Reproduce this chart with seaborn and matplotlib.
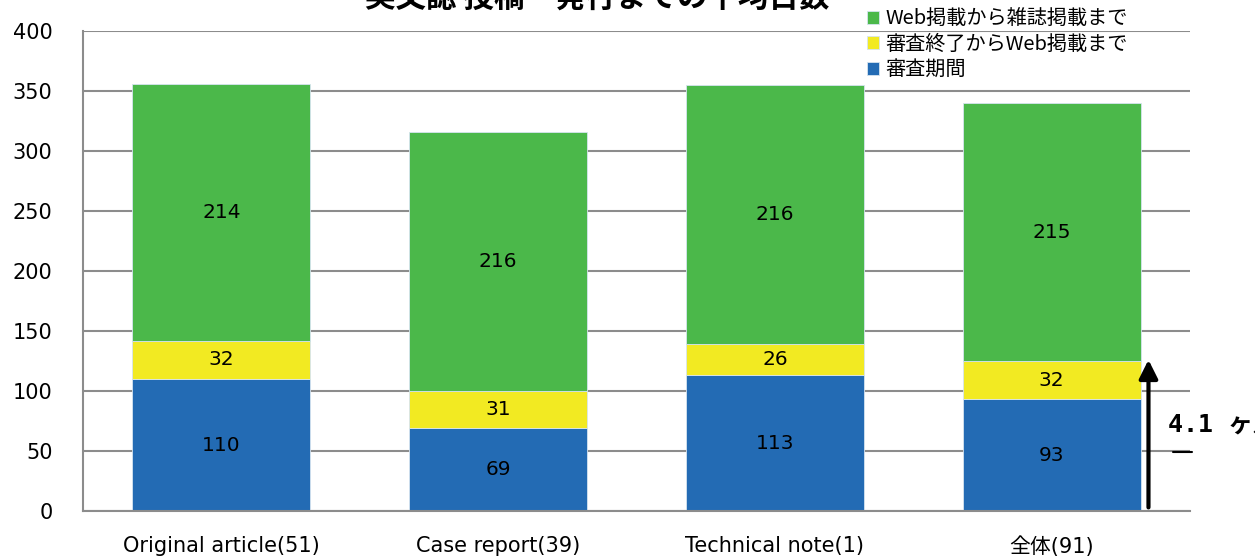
import matplotlib
matplotlib.use("Agg")
import matplotlib.pyplot as plt
import seaborn as sns
import numpy as np
import pandas as pd
from matplotlib.lines import Line2D

# データ
categories = ['Original article(51)', 'Case report(39)', 'Technical note(1)', '全体(91)']
review = [110, 69, 113, 93]          # 審査期間
to_web = [32, 31, 26, 32]            # 審査終了からWeb掲載まで
to_journal = [214, 216, 216, 215]    # Web掲載から雑誌掲載まで
series_names = ['審査期間', '審査終了からWeb掲載まで', 'Web掲載から雑誌掲載まで']
yticks = list(range(0, 401, 50))

title = '英文誌 投稿〜発行までの平均日数'
note = '4.1 ヶ月'

# スタイル
sns.set_theme(style='white')
plt.rcParams['font.family'] = ['DejaVu Sans', 'Noto Sans CJK JP']
plt.rcParams['axes.unicode_minus'] = False

colors = ['#236bb4', '#f2ea22', '#4bb84a']
grid_c = '#8c8c8c'

df = pd.DataFrame({'cat': categories, 'review': review,
                   'to_web': to_web, 'to_journal': to_journal})

fig = plt.figure(figsize=(12.55, 5.58), dpi=100)
ax = fig.add_axes([0.0661, 0.0842, 0.8821, 0.8602])

bottom = np.zeros(len(df))
for col, name, c in zip(['review', 'to_web', 'to_journal'], series_names, colors):
    sns.barplot(data=df, x='cat', y=col, color=c, width=0.643, errorbar=None,
                bottom=bottom.copy(), label=name, ax=ax,
                edgecolor='#d6e4f0', linewidth=0.6, saturation=1, zorder=2)
    bottom += df[col].to_numpy()

for cont in ax.containers:
    ax.bar_label(cont, label_type='center', fontsize=14.5, color='black')

ax.set_ylim(0, 400)
ax.set_xlim(-0.5, 3.5)
ax.set_yticks(yticks)
ax.set_xlabel('')
ax.set_ylabel('')
ax.yaxis.grid(True, color=grid_c, linewidth=1.5, zorder=0)
ax.set_axisbelow(True)
for s in ['top', 'right']:
    ax.spines[s].set_visible(False)
for s in ['left', 'bottom']:
    ax.spines[s].set_color(grid_c)
    ax.spines[s].set_linewidth(1.5)
ax.tick_params(axis='y', length=0, pad=22, labelsize=15, colors='black')
ax.tick_params(axis='x', length=0, pad=18, labelsize=15, colors='black')

# 凡例（逆順）
h, l = ax.get_legend_handles_labels()
leg = ax.legend(h[::-1], l[::-1], loc='upper left', bbox_to_anchor=(0.691, 0.985),
                bbox_transform=fig.transFigure, frameon=False,
                handlelength=0.6, handleheight=0.6, handletextpad=0.3,
                labelspacing=0.22, borderpad=0, borderaxespad=0,
                prop={'family': ['Noto Sans CJK JP'], 'size': 14.5})
for t in leg.get_texts():
    t.set_color('black')

# タイトル（上端で切れている）
fig.text(0.476, 1.005, title, ha='center', va='center', fontsize=22,
         fontweight='bold', family=['Noto Sans CJK JP'], color='black')

# 矢印と注記
ax.annotate('', xy=(3.35, 126), xytext=(3.35, 3),
            arrowprops=dict(arrowstyle='-|>', lw=3, color='black',
                            mutation_scale=28, shrinkA=0, shrinkB=0),
            annotation_clip=False)
ax.text(3.42, 72.5, note, ha='left', va='center', fontsize=18, fontweight='bold',
        family=['DejaVu Sans Mono', 'Noto Sans CJK JP'], clip_on=False, color='black')
fig.add_artist(Line2D([1173 / 1255, 1192 / 1255], [1 - 452 / 558] * 2,
                      transform=fig.transFigure, color='black', lw=1.5))

fig.savefig('out.png', dpi=100)
